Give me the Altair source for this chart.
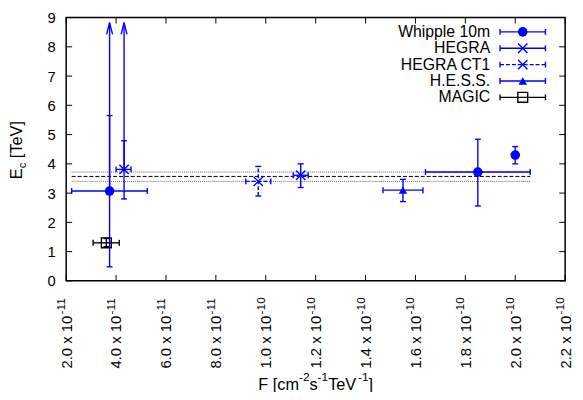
import altair as alt
import pandas as pd

BLUE = "#0000ff"
FONT = "Liberation Sans"

# ---------------- data (F in cm^-2 s^-1 TeV^-1, Ec in TeV) ----------------
whipple_F = [3.74e-11, 1.85e-10, 2.00e-10]
whipple_F_lo = [2.22e-11, 1.64e-10, 2.00e-10]
whipple_F_hi = [5.25e-11, 2.06e-10, 2.00e-10]
whipple_E = [3.07, 3.72, 4.30]
whipple_E_lo = [0.48, 2.56, 4.00]
whipple_E_hi = [5.65, 4.84, 4.59]

hegra_F = [4.32e-11, 1.14e-10]
hegra_F_lo = [4.00e-11, 1.11e-10]
hegra_F_hi = [4.60e-11, 1.17e-10]
hegra_E = [3.81, 3.61]
hegra_E_lo = [2.80, 3.19]
hegra_E_hi = [4.79, 4.00]

ct1_F = [9.7e-11]
ct1_F_lo = [9.2e-11]
ct1_F_hi = [10.2e-11]
ct1_E = [3.40]
ct1_E_lo = [2.90]
ct1_E_hi = [3.91]

hess_F = [1.55e-10]
hess_F_lo = [1.47e-10]
hess_F_hi = [1.63e-10]
hess_E = [3.10]
hess_E_lo = [2.71]
hess_E_hi = [3.47]

magic_F = [3.61e-11]
magic_F_lo = [3.08e-11]
magic_F_hi = [4.13e-11]
magic_E = [1.30]
magic_E_lo = [1.17]
magic_E_hi = [1.45]

# lower-limit arrows (Whipple first point, HEGRA first point)
arrow_F = [3.74e-11, 4.32e-11]
arrow_E_from = [3.07, 3.81]
arrow_E_to = [8.83, 8.83]

# mean cutoff energy and its band
mean_E = [3.57]
band_E = [3.40, 3.72]
mean_F_range = [2.22e-11, 2.06e-10]

x_ticks = [2e-11, 4e-11, 6e-11, 8e-11, 1e-10, 1.2e-10, 1.4e-10, 1.6e-10, 1.8e-10, 2e-10, 2.2e-10]
x_tick_mantissa = ["2.0 x 10", "4.0 x 10", "6.0 x 10", "8.0 x 10", "1.0 x 10", "1.2 x 10",
                   "1.4 x 10", "1.6 x 10", "1.8 x 10", "2.0 x 10", "2.2 x 10"]
x_tick_exponent = ["-11", "-11", "-11", "-11", "-10", "-10", "-10", "-10", "-10", "-10", "-10"]
y_ticks = [0, 1, 2, 3, 4, 5, 6, 7, 8, 9]
legend_labels = ["Whipple 10m", "HEGRA", "HEGRA CT1", "H.E.S.S.", "MAGIC"]

# ---------------- geometry ----------------
XMIN, XMAX, YMIN, YMAX = 2e-11, 2.2e-10, 0, 9
W, H = 506, 267
LBL = 15
SUP = 12
xscale = alt.Scale(domain=[XMIN, XMAX], nice=False, zero=False)
yscale = alt.Scale(domain=[YMIN, YMAX], nice=False, zero=False)
mant_expr = "[" + ",".join("'%s'" % s for s in x_tick_mantissa) + "][round(datum.value / 2e-11) - 1]"
xaxis = alt.Axis(values=x_ticks, labelExpr=mant_expr, labelAngle=-90, labelFontSize=LBL, labelFont=FONT,
                 labelPadding=35, labelColor="black", ticks=False, domain=False, grid=False, title=None,
                 labelFlush=False, labelOverlap=False, labelBound=False)
yaxis = alt.Axis(values=y_ticks, ticks=False, domain=False, grid=False, labelFontSize=15,
                 labelFont=FONT, labelPadding=11, labelColor="black", title=None,
                 labelFlush=False, labelOverlap=False)

# Arial / Liberation Sans advance widths (per em)
AW = {"F": .611, " ": .278, "[": .278, "]": .278, "c": .5, "m": .833, "s": .5, "T": .611,
      "e": .556, "V": .667, "-": .333, "E": .667, ".": .278, "x": .5}


def tw(t, size):
    return sum(AW.get(ch, .556) for ch in t) * size


def X(f):
    return alt.X(f, type="quantitative", scale=xscale, axis=xaxis)


def Y(f):
    return alt.Y(f, type="quantitative", scale=yscale, axis=yaxis)


CROSS = "M-1,-1L1,1M-1,1L1,-1"
HCAP = "M-1,0L1,0"
VCAP = "M0,-1L0,1"
ARROW = "M-0.5,2L0,0L0.5,2"
SW = 1.4


def series(F, Flo, Fhi, E, Elo, Ehi, color, shape, size, filled, dash=None):
    df = pd.DataFrame({"F": F, "Flo": Flo, "Fhi": Fhi, "E": E, "Elo": Elo, "Ehi": Ehi})
    rk = dict(color=color, strokeWidth=SW)
    if dash:
        rk["strokeDash"] = dash
    out = []
    out.append(alt.Chart(df).mark_rule(**rk).encode(x=X("F"), y=Y("Elo"), y2="Ehi"))
    vc = pd.DataFrame({"F": list(F) * 2, "E": list(Elo) + list(Ehi)})
    out.append(alt.Chart(vc).mark_point(shape=HCAP, size=36, filled=False, color=color,
                                        strokeWidth=SW, opacity=1).encode(x=X("F"), y=Y("E")))
    hd = df[df["Fhi"] > df["Flo"]]
    if len(hd):
        out.append(alt.Chart(hd).mark_rule(**rk).encode(x=X("Flo"), x2="Fhi", y=Y("E")))
        hc = pd.DataFrame({"F": list(hd["Flo"]) + list(hd["Fhi"]), "E": list(hd["E"]) * 2})
        out.append(alt.Chart(hc).mark_point(shape=VCAP, size=36, filled=False, color=color,
                                            strokeWidth=SW, opacity=1).encode(x=X("F"), y=Y("E")))
    out.append(alt.Chart(df).mark_point(shape=shape, size=size, filled=filled, color=color,
                                        strokeWidth=SW, opacity=1).encode(x=X("F"), y=Y("E")))
    return out


layers = []

# inward ticks on all four sides
tick_x_len = (XMAX - XMIN) * 6 / W
tick_y_len = (YMAX - YMIN) * 6 / H
bt = pd.DataFrame({"x": x_ticks * 2, "y": [YMIN] * len(x_ticks) + [YMAX] * len(x_ticks),
                   "y2": [YMIN + tick_y_len] * len(x_ticks) + [YMAX - tick_y_len] * len(x_ticks)})
layers.append(alt.Chart(bt).mark_rule(color="black", strokeWidth=1).encode(x=X("x"), y=Y("y"), y2="y2"))
lt = pd.DataFrame({"y": y_ticks * 2, "x": [XMIN] * len(y_ticks) + [XMAX] * len(y_ticks),
                   "x2": [XMIN + tick_x_len] * len(y_ticks) + [XMAX - tick_x_len] * len(y_ticks)})
layers.append(alt.Chart(lt).mark_rule(color="black", strokeWidth=1).encode(y=Y("y"), x=X("x"), x2="x2"))

# raised exponents of the x tick labels (mantissa comes from the axis labels)
xl = pd.DataFrame({"x": x_ticks, "e": x_tick_exponent})
layers.append(alt.Chart(xl).mark_text(angle=270, align="left", baseline="middle", fontSize=SUP, font=FONT,
                                      color="black", xOffset=-5).encode(
    x=X("x"), y=alt.value(H + 35 - 1), text="e:N"))

# mean line and band
mdf = pd.DataFrame({"E": mean_E, "F1": [mean_F_range[0]], "F2": [mean_F_range[1]]})
layers.append(alt.Chart(mdf).mark_rule(color="black", strokeWidth=1, strokeDash=[4, 2]).encode(
    x=X("F1"), x2="F2", y=Y("E")))
bdf = pd.DataFrame({"E": band_E, "F1": [mean_F_range[0]] * 2, "F2": [mean_F_range[1]] * 2})
layers.append(alt.Chart(bdf).mark_rule(color="#666666", strokeWidth=1, strokeDash=[1, 1]).encode(
    x=X("F1"), x2="F2", y=Y("E")))

# arrows
adf = pd.DataFrame({"F": arrow_F, "E1": arrow_E_from, "E2": arrow_E_to})
layers.append(alt.Chart(adf).mark_rule(color=BLUE, strokeWidth=SW).encode(x=X("F"), y=Y("E1"), y2="E2"))
layers.append(alt.Chart(adf).mark_point(shape=ARROW, size=144, filled=False, color=BLUE,
                                        strokeWidth=SW, opacity=1).encode(x=X("F"), y=Y("E2")))

layers += series(magic_F, magic_F_lo, magic_F_hi, magic_E, magic_E_lo, magic_E_hi, "black", "square", 100, False)
layers += series(whipple_F, whipple_F_lo, whipple_F_hi, whipple_E, whipple_E_lo, whipple_E_hi, BLUE, "circle", 95, True)
layers += series(hegra_F, hegra_F_lo, hegra_F_hi, hegra_E, hegra_E_lo, hegra_E_hi, BLUE, CROSS, 90, False)
layers += series(ct1_F, ct1_F_lo, ct1_F_hi, ct1_E, ct1_E_lo, ct1_E_hi, BLUE, CROSS, 90, False, dash=[4, 2])
layers += series(hess_F, hess_F_lo, hess_F_hi, hess_E, hess_E_lo, hess_E_hi, BLUE, "triangle-up", 75, True)

one = pd.DataFrame({"a": [0]})


def txt(t, x, y, size, angle=0, align="left", baseline="alphabetic"):
    return alt.Chart(one).mark_text(text=t, angle=angle, align=align, baseline=baseline, fontSize=size,
                                    font=FONT, color="black").encode(x=alt.value(x), y=alt.value(y))


# y-axis title: E_c [TeV]  (rotated, read bottom to top); (text, size, shift, gap-before)
YT_SIZE, YT_SUB = 16.5, 11.5
yt_pieces = [("E", YT_SIZE, 0, 0), ("c", YT_SUB, 4, 0), ("[TeV]", YT_SIZE, 0, tw(" ", YT_SIZE))]
total = sum(tw(t, s) + g for t, s, _, g in yt_pieces)
cy = H / 2 + total / 2
for t, s, shift, gap in yt_pieces:
    cy -= gap
    layers.append(txt(t, -45 + shift, cy, s, angle=270))
    cy -= tw(t, s)

# x-axis title: F [cm^-2 s^-1 TeV^-1]
XT_SIZE, XT_SUP = 16.5, 12
xt_pieces = [("F [cm", XT_SIZE, 0), ("-2", XT_SUP, 9), ("s", XT_SIZE, 0), ("-1", XT_SUP, 9),
             ("TeV", XT_SIZE, 0), ("-1", XT_SUP, 9), ("]", XT_SIZE, 0)]
total = sum(tw(t, s) for t, s, _ in xt_pieces)
cx = W / 2 - total / 2
for t, s, rise in xt_pieces:
    layers.append(txt(t, cx, 378 - rise, s))
    cx += tw(t, s)

# legend
leg_styles = [
    (BLUE, "circle", 95, True, None),
    (BLUE, CROSS, 90, False, None),
    (BLUE, CROSS, 90, False, [4, 2]),
    (BLUE, "triangle-up", 75, True, None),
    ("black", "square", 100, False, None),
]
for i, (lab, (col, shp, sz, fil, dash)) in enumerate(zip(legend_labels, leg_styles)):
    ly = 14.5 + 16.6 * i
    layers.append(txt(lab, 430, ly, 16, align="right", baseline="middle"))
    rk = dict(color=col, strokeWidth=SW)
    if dash:
        rk["strokeDash"] = dash
    layers.append(alt.Chart(one).mark_rule(**rk).encode(x=alt.value(440), x2=alt.value(486), y=alt.value(ly)))
    for px in (440, 486):
        layers.append(alt.Chart(one).mark_point(shape=VCAP, size=36, filled=False, color=col, strokeWidth=SW,
                                                opacity=1).encode(x=alt.value(px), y=alt.value(ly)))
    layers.append(alt.Chart(one).mark_point(shape=shp, size=sz, filled=fil, color=col, strokeWidth=SW,
                                            opacity=1).encode(x=alt.value(463), y=alt.value(ly)))

chart = alt.layer(*layers).properties(
    width=W, height=H,
    autosize=alt.AutoSizeParams(type="none"),
    padding={"left": 59, "top": 7, "right": 10, "bottom": 110},
    background="white",
).configure_view(stroke="black", strokeWidth=1.5)

chart.save("out.html", embed_options={"renderer": "svg", "actions": False})
